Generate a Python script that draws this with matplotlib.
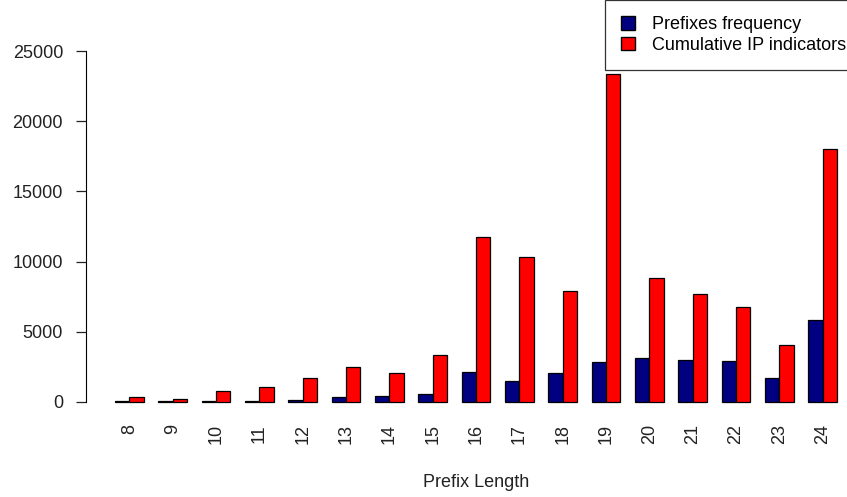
import numpy as np
import matplotlib.pyplot as plt
from matplotlib.patches import Patch

plt.rcParams['font.family'] = ['Liberation Sans', 'DejaVu Sans']

prefix_len = list(range(8, 25))
prefix_freq = [70, 50, 70, 90, 165, 330, 400, 590, 2140, 1470, 2065, 2820, 3130, 2960, 2890, 1690, 5860]
cumul_ip = [330, 235, 755, 1070, 1710, 2465, 2065, 3320, 11750, 10330, 7930, 23380, 8850, 7660, 6770, 4030, 18040]

fig = plt.figure(figsize=(8.47, 4.97), dpi=100)
# plot region runs a bit past the right edge, like the R device it came from
ax = fig.add_axes([86 / 847, 81 / 497, 780 / 847, 379 / 497])

grp = np.arange(len(prefix_len))
x_blue = 1.5 + 3 * grp
x_red = 2.5 + 3 * grp
ax.bar(x_blue, prefix_freq, width=1, color='#000080', edgecolor='black', linewidth=0.9)
ax.bar(x_red, cumul_ip, width=1, color='#ff0000', edgecolor='black', linewidth=0.9)

ax.set_xlim(-1, 53)
ax.set_ylim(-1000, 26000)
for s in ['top', 'right', 'bottom']:
    ax.spines[s].set_visible(False)
ax.spines['left'].set_bounds(0, 25000)
ax.set_yticks(range(0, 25001, 5000))
ax.tick_params(axis='y', length=7, width=0.9, pad=9.5, labelsize=13, colors='#222222')
ax.set_xticks(x_blue + 0.5)
ax.set_xticklabels([str(p) for p in prefix_len], rotation=90, fontsize=13, color='#222222')
ax.tick_params(axis='x', length=0, pad=6)
ax.set_xlabel('Prefix Length', fontsize=13, color='#222222', labelpad=21)

handles = [Patch(facecolor='#000080', edgecolor='black', label='Prefixes frequency'),
           Patch(facecolor='#ff0000', edgecolor='black', label='Cumulative IP indicators')]
leg = fig.legend(handles=handles, loc='upper left', bbox_to_anchor=(605 / 847, 1.0),
                 fontsize=13, frameon=True, fancybox=False, edgecolor='black',
                 handlelength=0.78, handleheight=0.75, handletextpad=0.9, labelspacing=0.2,
                 borderpad=0.9, borderaxespad=0)
leg.get_frame().set_linewidth(0.9)

fig.savefig('out.png', dpi=100)
